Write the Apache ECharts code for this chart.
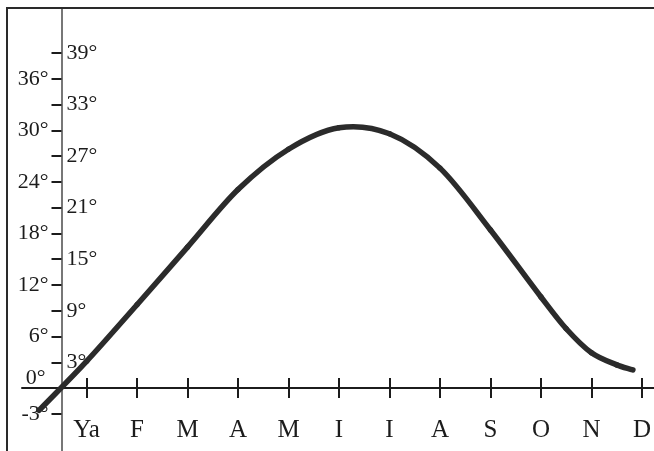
<!DOCTYPE html>
<html>
<head>
<meta charset="utf-8">
<script src="https://cdn.jsdelivr.net/npm/echarts@6/dist/echarts.min.js"></script>
<style>
  html, body { margin: 0; padding: 0; background: #fff; }
  #chart { width: 654px; height: 451px; }
</style>
</head>
<body>
<div id="chart"></div>
<script>
// Month names along the horizontal axis and their positions (month number)
const monthNames = ['Ya', 'F', 'M', 'A', 'M', 'I', 'I', 'A', 'S', 'O', 'N', 'D'];
const monthPos = [1, 2, 3, 4, 5, 6, 7, 8, 9, 10, 11, 12];

// Temperature curve: month position and degrees
const curveMonth = [0.06, 1, 2, 3, 4, 5, 6, 7, 8, 9, 10, 10.5, 11, 11.5, 11.82];
const curveDeg = [-2.6, 3.1, 9.7, 16.4, 23.1, 27.8, 30.3, 29.6, 25.6, 18.4, 10.6, 6.9, 4.1, 2.7, 2.1];

// Degree scale: tick marks, labels left of the axis, labels right of the axis
const degTicks = [-3, 3, 6, 9, 12, 15, 18, 21, 24, 27, 30, 33, 36, 39];
const degLabelsLeft = [-3, 0, 6, 12, 18, 24, 30, 36];
const degLabelsRight = [3, 9, 15, 21, 27, 33, 39];

const FONT = '"Liberation Serif", "Times New Roman", serif';
const INK = '#1c1c1c';
const CURVE = '#2b2b2b';

const chart = echarts.init(document.getElementById('chart'), null, { renderer: 'canvas' });

const xRange = { min: -0.2772, max: 12.238 };
const yRange = { min: -7.33, max: 44.24 };
// the month axis sits on the 0° line, 63px above the bottom of the plot
const xAxisLift = -63;

// Cubic Hermite piece between reading i and i+1 (finite-difference slopes),
// placed with the axes' scales
function curvePiece(params, api) {
  const i = params.dataIndex;
  const n = curveMonth.length;
  if (i >= n - 1) return null;
  const pt = k => api.coord([curveMonth[k], curveDeg[k]]);
  const slope = k => {
    const a = pt(Math.max(0, k - 1));
    const b = pt(Math.min(n - 1, k + 1));
    return (b[1] - a[1]) / (b[0] - a[0]);
  };
  const p1 = pt(i), p2 = pt(i + 1);
  const h = (p2[0] - p1[0]) / 3;
  const m1 = slope(i), m2 = slope(i + 1);
  return {
    type: 'bezierCurve',
    shape: {
      x1: p1[0], y1: p1[1],
      cpx1: p1[0] + h, cpy1: p1[1] + m1 * h,
      cpx2: p2[0] - h, cpy2: p2[1] - m2 * h,
      x2: p2[0], y2: p2[1]
    },
    style: { stroke: CURVE, lineWidth: 5.5, fill: null, lineCap: 'round' }
  };
}

const option = {
  backgroundColor: '#ffffff',
  animation: false,
  grid: { left: 22, right: 0, top: 8, bottom: 0, containLabel: false, outerBoundsMode: 'none' },
  xAxis: [
    {
      type: 'value', min: xRange.min, max: xRange.max, position: 'bottom', offset: xAxisLift,
      axisLine: { show: true, onZero: false, lineStyle: { color: INK, width: 2 } },
      axisTick: { show: true, customValues: monthPos, length: 10, inside: false, lineStyle: { color: INK, width: 2 } },
      axisLabel: {
        show: true, customValues: monthPos, margin: 30,
        fontFamily: FONT, fontSize: 25, color: INK,
        formatter: v => monthNames[Math.round(v) - 1]
      },
      splitLine: { show: false }
    },
    {
      type: 'value', min: xRange.min, max: xRange.max, position: 'bottom', offset: xAxisLift,
      axisLine: { show: false, onZero: false },
      axisTick: { show: true, customValues: monthPos, length: 10, inside: true, lineStyle: { color: INK, width: 2 } },
      axisLabel: { show: false },
      splitLine: { show: false }
    }
  ],
  yAxis: [
    {
      type: 'value', min: yRange.min, max: yRange.max, position: 'left', offset: -39.5,
      axisLine: { show: true, onZero: false, lineStyle: { color: '#555', width: 1.6 } },
      axisTick: { show: true, customValues: degTicks, length: 10, inside: false, lineStyle: { color: INK, width: 2 } },
      axisLabel: {
        show: true, customValues: degLabelsLeft, margin: 13,
        fontFamily: FONT, fontSize: 22, color: INK,
        formatter: v => (v === 0 ? '{z|0°}' : v + '°'),
        rich: { z: { fontFamily: FONT, fontSize: 22, color: INK, padding: [0, 3, 20, 0] } }
      },
      splitLine: { show: false }
    },
    {
      type: 'value', min: yRange.min, max: yRange.max, position: 'left', offset: -39.5,
      axisLine: { show: false, onZero: false },
      axisTick: { show: false },
      axisLabel: {
        show: true, inside: true, customValues: degLabelsRight, margin: 5,
        fontFamily: FONT, fontSize: 22, color: INK,
        formatter: v => v + '°'
      },
      splitLine: { show: false }
    }
  ],
  graphic: [
    {
      type: 'polyline', silent: true, z: 100,
      shape: { points: [[7, 460], [7, 8], [660, 8]] },
      style: { stroke: '#2a2a2a', lineWidth: 2, fill: null }
    }
  ],
  series: [
    {
      type: 'custom',
      xAxisIndex: 0, yAxisIndex: 0,
      data: curveMonth.map((m, i) => [m, curveDeg[i]]),
      encode: { x: 0, y: 1 },
      renderItem: curvePiece,
      clip: false,
      z: 3
    }
  ]
};

chart.setOption(option);
</script>
</body>
</html>
